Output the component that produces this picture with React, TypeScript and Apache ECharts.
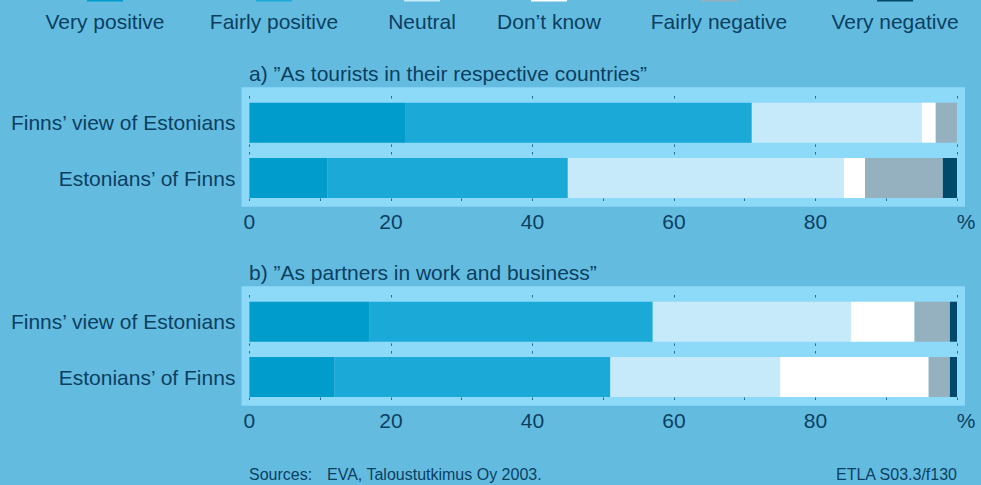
import React, { useEffect, useRef } from "react";
import * as echarts from "echarts";

const responses = ["Very positive", "Fairly positive", "Neutral", "Don’t know", "Fairly negative", "Very negative"];
const responseColors = ["#009CCB", "#1BAAD7", "#C6EAF9", "#FFFFFF", "#95B0BF", "#00496A"];
const rowLabels = ["Finns’ view of Estonians", "Estonians’ of Finns"];
const panelTitles = ["a) ”As tourists in their respective countries”", "b) ”As partners in work and business”"];

// percentages per response (Very positive ... Very negative)
const touristsFinns = [22, 49, 24, 2, 3, 0];
const touristsEstonians = [11, 34, 39, 3, 11, 2];
const businessFinns = [17, 40, 28, 9, 5, 1];
const businessEstonians = [12, 39, 24, 21, 3, 1];

const axisMin = 0;
const axisMax = 100;
const axisMajor = 20;
const axisMinor = 10;
const tickLabels = ["0", "20", "40", "60", "80", "%"];

const sourceText = "Sources:";
const sourceDetail = "EVA, Taloustutkimus Oy 2003.";
const codeText = "ETLA S03.3/f130";

const FONT = "'Liberation Sans', Arial, Helvetica, sans-serif";
const TEXT = "#0C3F60";
const TICK = "#1F6D9C";
const BG = "#63BCE0";
const PANEL = "#8DD9F8";

export default function App() {
  const ref = useRef<HTMLDivElement>(null);

  useEffect(() => {
    if (!ref.current) return;
    const chart = echarts.init(ref.current, null, { renderer: "svg" });

    const rows = [
      { values: touristsFinns, label: rowLabels[0] },
      { values: touristsEstonians, label: rowLabels[1] },
      { values: businessFinns, label: rowLabels[0] },
      { values: businessEstonians, label: rowLabels[1] },
    ];
    const panelOffset = [0, 199];
    const rowGeom = [
      { top: 98.5, height: 48.4, topOffset: 2.5 },
      { top: 155, height: 46, topOffset: 3 },
    ];

    const grids: any[] = [];
    const xAxes: any[] = [];
    const yAxes: any[] = [];
    const series: any[] = [];

    rows.forEach((row, g) => {
      const panel = Math.floor(g / 2);
      const r = g % 2;
      const geom = rowGeom[r];
      const isLast = r === 1;
      grids.push({
        left: 249.4,
        right: 24,
        top: geom.top + panelOffset[panel],
        height: geom.height,
        containLabel: false,
      });
      xAxes.push({
        type: "value",
        gridIndex: g,
        position: "top",
        offset: geom.topOffset,
        min: axisMin,
        max: axisMax,
        interval: axisMajor,
        axisLine: { show: false },
        axisTick: { show: true, inside: true, length: 2.5, lineStyle: { color: TICK, width: 1 } },
        axisLabel: { show: false },
        splitLine: { show: false },
      });
      xAxes.push({
        type: "value",
        gridIndex: g,
        position: "bottom",
        min: axisMin,
        max: axisMax,
        interval: isLast ? axisMinor : axisMajor,
        axisLine: { show: false },
        axisTick: { show: true, inside: true, length: 2.5, lineStyle: { color: TICK, width: 1 } },
        axisLabel: {
          show: isLast,
          margin: 10,
          fontSize: 21,
          fontFamily: FONT,
          color: TEXT,
          formatter: (v: number) => {
            if (v % axisMajor !== 0) return "";
            const s = tickLabels[v / axisMajor];
            return v === axisMax ? "{p|" + s + "}" : s;
          },
          rich: { p: { fontSize: 21, fontFamily: FONT, color: TEXT, padding: [0, 0, 0, 18] } },
        },
        splitLine: { show: false },
      });
      yAxes.push({
        type: "category",
        gridIndex: g,
        data: [row.label],
        axisLine: { show: false },
        axisTick: { show: false },
        axisLabel: { margin: 14, fontSize: 21, fontFamily: FONT, color: TEXT },
      });
      responses.forEach((name, k) => {
        series.push({
          type: "bar",
          name,
          stack: "row" + g,
          xAxisIndex: g * 2 + 1,
          yAxisIndex: g,
          barWidth: 40,
          data: [row.values[k]],
          itemStyle: { color: responseColors[k] },
          z: 3,
        });
      });
    });

    const legendCenters = [105, 274, 422, 549, 719, 895];
    const graphic: any[] = [];
    panelOffset.forEach((dy, p) => {
      graphic.push({
        type: "rect",
        z: 0,
        shape: { x: 241.5, y: 87.3 + dy, width: 723.5, height: 119.4 },
        style: { fill: PANEL },
      });
      graphic.push({
        type: "text",
        z: 5,
        x: 249,
        y: 73 + dy,
        style: { text: panelTitles[p], font: `21px ${FONT}`, fill: TEXT, verticalAlign: "middle" },
      });
    });
    responses.forEach((name, k) => {
      graphic.push({
        type: "rect",
        z: 5,
        shape: { x: legendCenters[k] - 18, y: -9, width: 36, height: 10.5 },
        style: { fill: responseColors[k] },
      });
      graphic.push({
        type: "text",
        z: 5,
        x: legendCenters[k],
        y: 21,
        style: { text: name, font: `21px ${FONT}`, fill: TEXT, align: "center", verticalAlign: "middle" },
      });
    });
    graphic.push({
      type: "text",
      z: 5,
      x: 249,
      y: 474,
      style: { text: sourceText, font: `16px ${FONT}`, fill: TEXT, verticalAlign: "middle" },
    });
    graphic.push({
      type: "text",
      z: 5,
      x: 327,
      y: 474,
      style: { text: sourceDetail, font: `16px ${FONT}`, fill: TEXT, verticalAlign: "middle" },
    });
    graphic.push({
      type: "text",
      z: 5,
      x: 957,
      y: 474,
      style: { text: codeText, font: `16px ${FONT}`, fill: TEXT, align: "right", verticalAlign: "middle" },
    });

    chart.setOption({
      animation: false,
      backgroundColor: BG,
      textStyle: { fontFamily: FONT },
      grid: grids,
      xAxis: xAxes,
      yAxis: yAxes,
      series,
      graphic,
    });

    return () => chart.dispose();
  }, []);

  return (
    <div
      ref={ref}
      style={{ position: "fixed", left: 0, top: 0, width: 981, height: 485 }}
    />
  );
}
